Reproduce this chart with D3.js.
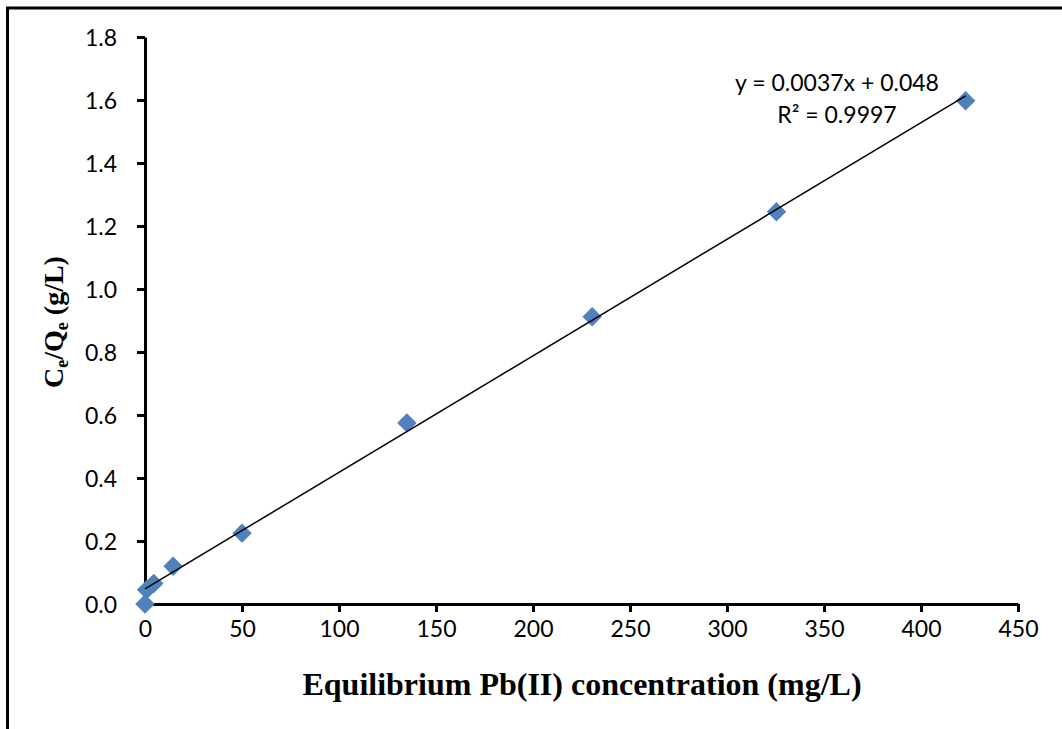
<!DOCTYPE html>
<html lang="en">
<head>
<meta charset="utf-8">
<title>Ce/Qe vs equilibrium Pb(II) concentration</title>
<script src="https://d3js.org/d3.v7.min.js"></script>
<style>
  body { margin: 0; background: #fff; }
  .tick text { font-family: Lato, "Open Sans", sans-serif; font-size: 23px; fill: #000; }
</style>
</head>
<body>
<div id="chart"></div>
<script>
// data
var concX = [0, 0.8, 4.5, 14.5, 50, 135, 230.5, 325.5, 423];
var ceQe  = [0.0, 0.045, 0.065, 0.12, 0.225, 0.575, 0.912, 1.245, 1.598];
var xTicks = [0, 50, 100, 150, 200, 250, 300, 350, 400, 450];
var yTicks = [0, 0.2, 0.4, 0.6, 0.8, 1.0, 1.2, 1.4, 1.6, 1.8];
var slope = 0.0037, intercept = 0.048;
var eqText = "y = 0.0037x + 0.048";
var r2Text = "R\u00B2 = 0.9997";

var W = 1062, H = 729;
var margin = {top: 37, right: 44, bottom: 125, left: 145};
var width = W - margin.left - margin.right,
    height = H - margin.top - margin.bottom;

var svg = d3.select("#chart").append("svg")
    .attr("width", W)
    .attr("height", H);

// outer frame (only top and left edges are visible in the picture)
svg.append("rect")
    .attr("x", 7.5).attr("y", 8)
    .attr("width", W + 20).attr("height", H + 20)
    .attr("fill", "none")
    .attr("stroke", "#000")
    .attr("stroke-width", 3);

var g = svg.append("g")
    .attr("transform", "translate(" + margin.left + "," + margin.top + ")");

var x = d3.scaleLinear().domain([0, 450]).range([0, width]);
var y = d3.scaleLinear().domain([0, 1.8]).range([height, 0]);

var xAxis = g.append("g")
    .attr("transform", "translate(0," + height + ")")
    .call(d3.axisBottom(x).tickValues(xTicks).tickSize(8).tickSizeOuter(0).tickPadding(9)
      .tickFormat(d3.format("d")));
var yAxis = g.append("g")
    .call(d3.axisLeft(y).tickValues(yTicks).tickSize(8).tickSizeOuter(0).tickPadding(20)
      .tickFormat(d3.format(".1f")));

[xAxis, yAxis].forEach(function(a) {
  a.select(".domain").attr("stroke", "#000").attr("stroke-width", 3);
  a.selectAll(".tick line").attr("stroke", "#000").attr("stroke-width", 3);
});
yAxis.selectAll(".tick text").attr("dy", "0.35em");

// diamond markers
var pts = concX.map(function(v, i) { return {x: v, y: ceQe[i]}; });
g.selectAll(".pt")
  .data(pts)
  .enter().append("path")
    .attr("class", "pt")
    .attr("d", d3.symbol().type(d3.symbolSquare).size(190))
    .attr("transform", function(d) { return "translate(" + x(d.x) + "," + y(d.y) + ") rotate(45)"; })
    .attr("fill", "#4F81BD");

// linear trendline, drawn over the markers
var xMax = d3.max(concX);
g.append("line")
    .attr("x1", x(0)).attr("y1", y(intercept))
    .attr("x2", x(xMax)).attr("y2", y(slope * xMax + intercept))
    .attr("stroke", "#000")
    .attr("stroke-width", 1.5);

// equation labels
g.append("text")
    .attr("x", 837 - margin.left).attr("y", 91 - margin.top)
    .attr("text-anchor", "middle")
    .style("font-family", "Lato, 'Open Sans', sans-serif")
    .style("font-size", "23px")
    .text(eqText);
g.append("text")
    .attr("x", 837 - margin.left).attr("y", 123 - margin.top)
    .attr("text-anchor", "middle")
    .style("font-family", "Lato, 'Open Sans', sans-serif")
    .style("font-size", "23px")
    .text(r2Text);

// axis titles
svg.append("text")
    .attr("x", 582).attr("y", 695)
    .attr("text-anchor", "middle")
    .style("font-family", "'Liberation Serif', 'Times New Roman', serif")
    .style("font-weight", "bold")
    .style("font-size", "32px")
    .text("Equilibrium Pb(II) concentration (mg/L)");

var yt = svg.append("text")
    .attr("transform", "translate(63,322) rotate(-90)")
    .attr("text-anchor", "middle")
    .style("font-family", "'Liberation Serif', 'Times New Roman', serif")
    .style("font-weight", "bold")
    .style("font-size", "28px");
yt.append("tspan").text("C");
yt.append("tspan").attr("dy", "5").style("font-size", "18px").text("e");
yt.append("tspan").attr("dy", "-5").text("/Q");
yt.append("tspan").attr("dy", "5").style("font-size", "18px").text("e");
yt.append("tspan").attr("dy", "-5").text(" (g/L)");
</script>
</body>
</html>
